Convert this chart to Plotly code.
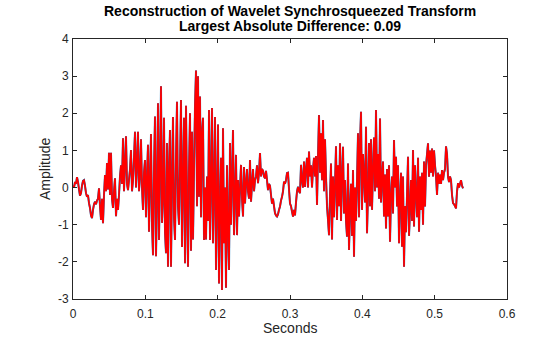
import numpy as np
import plotly.graph_objects as go

fs = 723.3
signal = [
    0.05, 0.0, 0.15, 0.1, 0.28, 0.15, -0.05, -0.22, -0.15, 0.05,
    0.18, 0.2, 0.05, -0.15, -0.25, -0.2, -0.42, -0.55, -0.75, -0.82,
    -0.6, -0.45, -0.38, -0.45, -0.35, -0.3, -0.02, -0.5, -0.87, -0.3,
    -0.96, -0.2, 0.34, -0.1, 0.66, -0.05, 0.94, -0.2, 0.94, -0.3,
    -0.55, -0.1, 0.25, -0.77, -0.3, -0.6, -0.2, 0.3, 0.6, 0.1,
    1.33, -0.1, 0.6, 1.38, 0.1, -0.07, 0.2, 0.5, 1.01, -0.1,
    0.2, 0.8, 1.5, 0.0, 0.6, 1.5, -0.1, 0.3, 1.3, 0.0,
    -0.6, 0.4, 0.74, -0.8, 0.3, 1.15, -1.19, 0.2, 1.44, -1.0,
    -1.82, 0.5, 1.91, -1.85, -0.3, 2.27, -1.41, 0.4, 2.73, -0.95,
    -0.3, 1.88, -1.2, -1.77, 1.2, -2.13, 0.5, 1.55, -2.13, 0.2,
    1.9, -0.8, -1.41, 0.8, 2.31, -0.5, -1.0, 0.6, 2.36, -1.6,
    0.3, 1.88, -2.04, 2.2, -0.4, -2.13, 0.5, 2.0, -1.7, 1.5,
    -1.4, 0.5, 2.2, 3.15, -0.5, 3.0, -0.25, 2.45, -0.8, 1.5,
    1.88, -1.41, 0.0, -1.4, 0.3, -0.9, 2.09, -1.41, 0.2, 2.14,
    -1.5, 0.0, 1.9, -2.22, -0.4, 1.7, -2.58, -0.5, 0.8, -2.76,
    1.6, -1.5, 0.0, -2.7, 0.6, -1.2, -2.22, 1.2, -1.0, 0.3,
    1.55, -1.28, -0.2, 0.88, -1.28, 0.2, -0.78, 0.0, 0.61, -0.3,
    -0.78, 0.55, -0.43, 0.1, 0.5, -0.1, -0.3, 0.74, -0.38, 0.1,
    0.5, -0.1, 0.2, 0.3, 0.6, 0.12, 0.4, 0.93, 0.3, 0.5,
    0.45, 0.3, 0.25, 0.45, 0.2, -0.07, 0.1, 0.05, -0.2, -0.43,
    -0.3, -0.5, -0.69, -0.75, -0.78, -0.72, -0.6, -0.51, -0.35, -0.25,
    -0.1, 0.16, 0.1, 0.2, 0.39, 0.4, -0.05, -0.43, -0.5, -0.65,
    -0.78, -0.6, -0.75, -0.4, -0.1, 0.02, -0.1, -0.15, 0.61, 0.2,
    0.0, 0.7, 0.02, 0.5, 0.8, 0.0, 0.97, 0.3, 0.6, 0.0,
    0.5, 0.8, 0.3, 0.85, -0.47, 0.85, 1.95, 0.4, 1.46, 0.2,
    1.82, -0.1, 1.3, 0.3, -0.5, -0.87, -1.28, -0.2, 0.65, -1.4,
    0.3, -0.8, 0.1, 1.11, -0.87, 0.6, -0.5, 1.19, -0.9, 0.3,
    1.1, -0.7, 0.2, -0.9, -1.32, 0.65, -1.68, -0.6, 0.1, -1.3,
    0.47, -1.86, 0.0, -0.9, 0.2, 1.46, -0.8, 1.2, 2.04, -0.6,
    0.9, 0.3, -0.4, 1.64, -1.23, -0.2, 1.2, -0.5, 1.3, -0.6,
    0.5, 1.35, -0.1, 2.09, 0.0, 0.9, -0.3, 1.86, -0.4, 0.2,
    0.7, -0.78, 0.35, -1.1, 0.5, -0.78, 0.6, -1.46, -0.2, 0.3,
    -0.7, 1.28, 0.0, 0.83, -0.51, 0.6, -1.5, -0.3, 0.4, -1.59,
    0.3, -2.13, -0.5, -1.2, -0.2, 0.83, -1.3, -0.6, 0.2, -0.9,
    1.01, -1.05, 0.6, -0.2, -0.8, 0.8, -1.19, 0.3, -0.6, 0.4,
    -1.0, 0.7, -0.51, 0.6, 0.9, 1.19, 0.29, 1.0, 0.4, 1.05,
    0.3, 1.0, 0.6, 0.3, -0.2, 0.4, 0.1, 0.35, 0.1, 0.47,
    0.2, 0.4, 0.5, 1.11, 0.9, 0.29, 0.15, 0.3, 0.2, -0.2,
    -0.42, -0.45, -0.5, -0.56, -0.1, 0.12, 0.0, 0.1, 0.2, 0.05,
    -0.02,
]
x_ticks = [0, 0.1, 0.2, 0.3, 0.4, 0.5, 0.6]
x_labels = ["0", "0.1", "0.2", "0.3", "0.4", "0.5", "0.6"]
y_ticks = [-3, -2, -1, 0, 1, 2, 3, 4]
y_labels = ["-3", "-2", "-1", "0", "1", "2", "3", "4"]
title_lines = ["Reconstruction of Wavelet Synchrosqueezed Transform",
               "Largest Absolute Difference: 0.09"]
x_title = "Seconds"
y_title = "Amplitude"

t = np.arange(len(signal)) / fs

axcol = "#262626"
font = "Liberation Sans, Arial, Helvetica, sans-serif"

fig = go.Figure()
fig.add_trace(go.Scatter(x=t, y=signal, mode="lines",
                         line=dict(color="#0072BD", width=2.0, simplify=False), name="Original"))
fig.add_trace(go.Scatter(x=t, y=signal, mode="lines",
                         line=dict(color="#FF0000", width=1.7, simplify=False), name="Reconstruction"))

axis_common = dict(showline=True, linecolor=axcol, linewidth=1, mirror="ticks",
                   ticks="inside", ticklen=4, tickcolor=axcol, tickwidth=1,
                   showgrid=False, zeroline=False, automargin=False,
                   tickfont=dict(family=font, size=12, color=axcol))
fig.update_xaxes(range=[0, 0.6], tickvals=x_ticks, ticktext=x_labels, ticklabelstandoff=4,
                 **axis_common)
fig.update_yaxes(range=[-3, 4], tickvals=y_ticks, ticktext=y_labels, ticklabelstandoff=1,
                 **axis_common)

for i, line_text in enumerate(title_lines):
    fig.add_annotation(x=0.5, y=1, xref="paper", yref="paper", xanchor="center", yanchor="middle",
                       yshift=28 - 15 * i, showarrow=False,
                       text="<b>" + line_text + "</b>",
                       font=dict(family=font, size=14, color="#000000"))

fig.add_annotation(x=0.5, y=0, xref="paper", yref="paper", xanchor="center", yanchor="middle",
                   yshift=-29, showarrow=False, text=x_title,
                   font=dict(family=font, size=14, color=axcol))
fig.add_annotation(x=0, y=0.5, xref="paper", yref="paper", xanchor="center", yanchor="middle",
                   xshift=-28, showarrow=False, text=y_title, textangle=-90,
                   font=dict(family=font, size=14, color=axcol))

fig.update_layout(width=560, height=337, margin=dict(l=73, r=53, t=39, b=38),
                  plot_bgcolor="white", paper_bgcolor="white", showlegend=False)

fig.write_html("out.html")
